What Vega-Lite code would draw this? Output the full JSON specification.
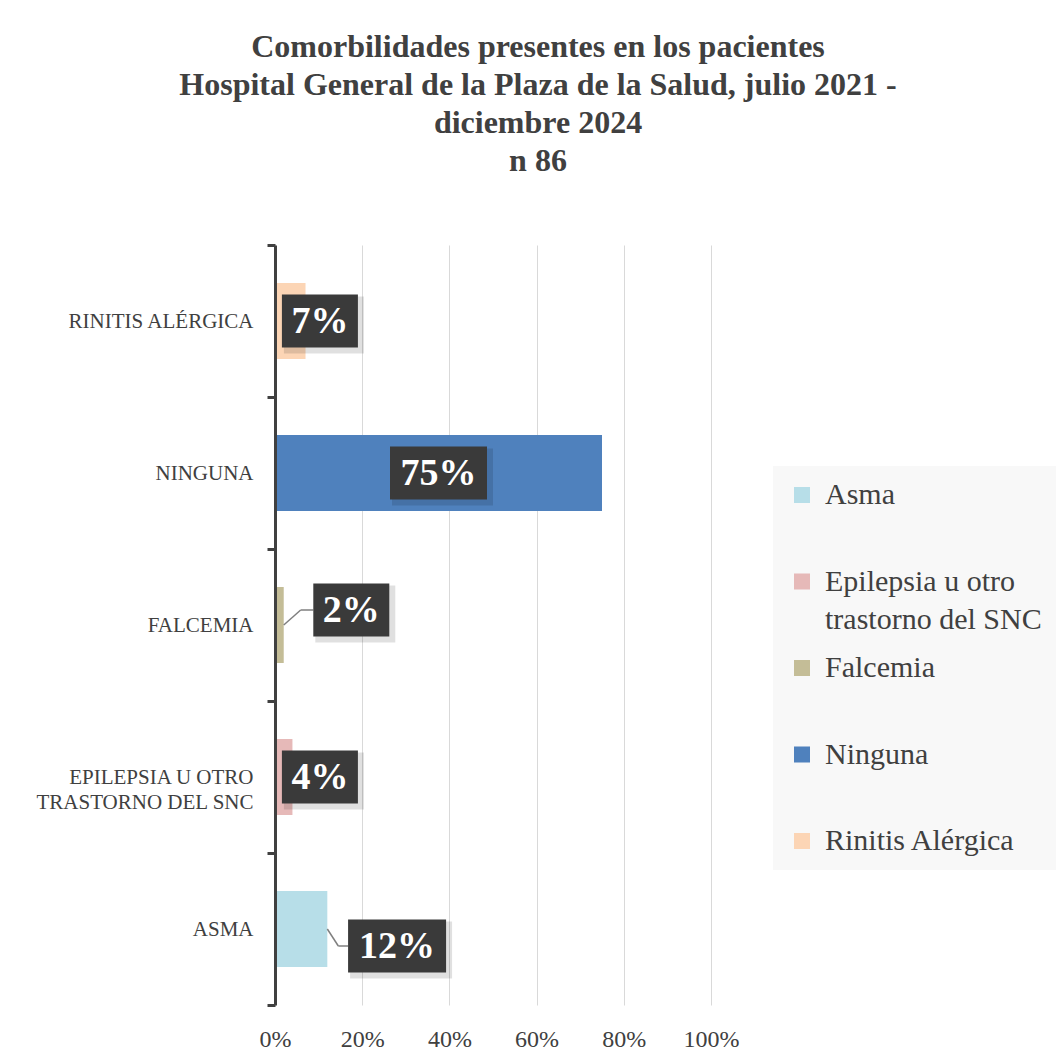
{
  "$schema": "https://vega.github.io/schema/vega-lite/v6.json",
  "width": 436,
  "height": 760,
  "autosize": {"type": "none"},
  "padding": {"left": 275, "top": 245, "right": 348, "bottom": 59},
  "background": "white",
  "title": {
    "text": ["Comorbilidades presentes en los pacientes", "Hospital General de la Plaza de la Salud, julio 2021 -", "diciembre 2024", "n 86"],
    "font": "Liberation Serif",
    "fontSize": 32,
    "fontWeight": "bold",
    "color": "#404040",
    "lineHeight": 38,
    "anchor": "middle",
    "dx": 45,
    "offset": 56
  },
  "config": {
    "view": {"stroke": null},
    "style": {"guide-label": {"lineHeight": 38}}
  },
  "data": {
    "values": [
      {"cat": "Asma", "value": 0.12, "labelX": 0.28},
      {"cat": "Epilepsia u otro trastorno del SNC", "value": 0.04, "labelX": 0.103},
      {"cat": "Falcemia", "value": 0.02, "labelX": 0.175},
      {"cat": "Ninguna", "value": 0.75, "labelX": 0.375},
      {"cat": "Rinitis Alérgica", "value": 0.07, "labelX": 0.103}
    ]
  },
  "encoding": {
    "y": {
      "field": "cat",
      "type": "nominal",
      "sort": ["Rinitis Alérgica", "Ninguna", "Falcemia", "Epilepsia u otro trastorno del SNC", "Asma"],
      "scale": {"paddingInner": 0, "paddingOuter": 0},
      "axis": {
        "title": null,
        "zindex": 2,
        "domainColor": "#404040",
        "domainWidth": 3,
        "tickColor": "#404040",
        "tickWidth": 3,
        "tickSize": 8,
        "tickBand": "extent",
        "labelFont": "Liberation Serif",
        "labelFontSize": 21,
        "labelColor": "#404040",
        "labelPadding": 14,
        "labelLimit": 400,
        "labelLineHeight": 25,
        "labelExpr": "datum.value == null ? '' : datum.value == 'Epilepsia u otro trastorno del SNC' ? ['EPILEPSIA U OTRO', 'TRASTORNO DEL SNC'] : upper(datum.value)"
      }
    }
  },
  "layer": [
    {
      "mark": {"type": "bar", "size": 76},
      "encoding": {
        "x": {
          "field": "value",
          "type": "quantitative",
          "scale": {"domain": [0, 1]},
          "axis": {
            "title": null,
            "values": [0, 0.2, 0.4, 0.6, 0.8, 1],
            "format": "%",
            "domain": false,
            "ticks": false,
            "grid": true,
            "gridColor": "#d9d9d9",
            "gridWidth": 1,
            "labelFlush": false,
            "labelFont": "Liberation Serif",
            "labelFontSize": 24,
            "labelColor": "#404040",
            "labelPadding": 22
          }
        },
        "color": {
          "field": "cat",
          "type": "nominal",
          "scale": {
            "domain": ["Asma", "Epilepsia u otro trastorno del SNC", "Falcemia", "Ninguna", "Rinitis Alérgica"],
            "range": ["#b7dee8", "#e6b9b8", "#c4bd97", "#4f81bd", "#fcd5b5"]
          },
          "legend": {
            "title": null,
            "orient": "none",
            "legendX": 498,
            "legendY": 221,
            "fillColor": "#f8f8f8",
            "padding": 14,
            "symbolType": "square",
            "symbolSize": 256,
            "symbolStrokeWidth": 0,
            "labelFont": "Liberation Serif",
            "labelFontSize": 30,
            "labelColor": "#404040",
            "labelOffset": 8,
            "labelLimit": 400,
            "gridAlign": "all",
            "rowPadding": 18.5,
            "labelExpr": "datum.value == 'Epilepsia u otro trastorno del SNC' ? ['Epilepsia u otro', 'trastorno del SNC'] : datum.value"
          }
        }
      }
    },
    {
      "transform": [{"filter": "datum.cat == 'Falcemia'"}],
      "mark": {"type": "rule", "color": "#7f7f7f", "strokeWidth": 1.5, "x2Offset": 17, "y2Offset": -15},
      "encoding": {
        "x": {"field": "value", "type": "quantitative"},
        "x2": {"field": "value"},
        "y2": {"field": "cat"}
      }
    },
    {
      "transform": [{"filter": "datum.cat == 'Falcemia'"}],
      "mark": {"type": "rule", "color": "#7f7f7f", "strokeWidth": 1.5, "xOffset": 17, "x2Offset": -38, "yOffset": -15},
      "encoding": {
        "x": {"field": "value", "type": "quantitative"},
        "x2": {"field": "labelX"}
      }
    },
    {
      "transform": [{"filter": "datum.cat == 'Asma'"}],
      "mark": {"type": "rule", "color": "#7f7f7f", "strokeWidth": 1.5, "x2Offset": 11, "y2Offset": 17},
      "encoding": {
        "x": {"field": "value", "type": "quantitative"},
        "x2": {"field": "value"},
        "y2": {"field": "cat"}
      }
    },
    {
      "transform": [{"filter": "datum.cat == 'Asma'"}],
      "mark": {"type": "rule", "color": "#7f7f7f", "strokeWidth": 1.5, "xOffset": 11, "x2Offset": -49, "yOffset": 17},
      "encoding": {
        "x": {"field": "value", "type": "quantitative"},
        "x2": {"field": "labelX"}
      }
    },
    {
      "transform": [{"filter": "datum.cat == 'Rinitis Alérgica' || datum.cat == 'Epilepsia u otro trastorno del SNC'"}],
      "mark": {"type": "bar", "size": 57, "color": "#000000", "opacity": 0.12, "xOffset": -36, "x2Offset": 44, "yOffset": 4},
      "encoding": {"x": {"field": "labelX", "type": "quantitative"}, "x2": {"field": "labelX"}}
    },
    {
      "transform": [{"filter": "datum.cat == 'Rinitis Alérgica' || datum.cat == 'Epilepsia u otro trastorno del SNC'"}],
      "mark": {"type": "bar", "size": 53, "color": "#3a3a3a", "xOffset": -38, "x2Offset": 38},
      "encoding": {"x": {"field": "labelX", "type": "quantitative"}, "x2": {"field": "labelX"}}
    },
    {
      "transform": [{"filter": "datum.cat == 'Rinitis Alérgica' || datum.cat == 'Epilepsia u otro trastorno del SNC'"}],
      "mark": {"type": "text", "font": "Liberation Serif", "fontWeight": "bold", "fontSize": 38, "color": "white", "baseline": "middle", "align": "center", "dy": 1},
      "encoding": {"x": {"field": "labelX", "type": "quantitative"}, "text": {"field": "value", "type": "quantitative", "format": ".0%"}}
    },
    {
      "transform": [{"filter": "datum.cat == 'Ninguna'"}],
      "mark": {"type": "bar", "size": 57, "color": "#000000", "opacity": 0.12, "xOffset": -46.5, "x2Offset": 54.5, "yOffset": 4},
      "encoding": {"x": {"field": "labelX", "type": "quantitative"}, "x2": {"field": "labelX"}}
    },
    {
      "transform": [{"filter": "datum.cat == 'Ninguna'"}],
      "mark": {"type": "bar", "size": 53, "color": "#3a3a3a", "xOffset": -48.5, "x2Offset": 48.5},
      "encoding": {"x": {"field": "labelX", "type": "quantitative"}, "x2": {"field": "labelX"}}
    },
    {
      "transform": [{"filter": "datum.cat == 'Ninguna'"}],
      "mark": {"type": "text", "font": "Liberation Serif", "fontWeight": "bold", "fontSize": 38, "color": "white", "baseline": "middle", "align": "center", "dy": 1},
      "encoding": {"x": {"field": "labelX", "type": "quantitative"}, "text": {"field": "value", "type": "quantitative", "format": ".0%"}}
    },
    {
      "transform": [{"filter": "datum.cat == 'Falcemia'"}],
      "mark": {"type": "bar", "size": 57, "color": "#000000", "opacity": 0.12, "xOffset": -36, "x2Offset": 44, "yOffset": -11},
      "encoding": {"x": {"field": "labelX", "type": "quantitative"}, "x2": {"field": "labelX"}}
    },
    {
      "transform": [{"filter": "datum.cat == 'Falcemia'"}],
      "mark": {"type": "bar", "size": 53, "color": "#3a3a3a", "xOffset": -38, "x2Offset": 38, "yOffset": -15},
      "encoding": {"x": {"field": "labelX", "type": "quantitative"}, "x2": {"field": "labelX"}}
    },
    {
      "transform": [{"filter": "datum.cat == 'Falcemia'"}],
      "mark": {"type": "text", "font": "Liberation Serif", "fontWeight": "bold", "fontSize": 38, "color": "white", "baseline": "middle", "align": "center", "dy": -14},
      "encoding": {"x": {"field": "labelX", "type": "quantitative"}, "text": {"field": "value", "type": "quantitative", "format": ".0%"}}
    },
    {
      "transform": [{"filter": "datum.cat == 'Asma'"}],
      "mark": {"type": "bar", "size": 57, "color": "#000000", "opacity": 0.12, "xOffset": -47, "x2Offset": 55, "yOffset": 21},
      "encoding": {"x": {"field": "labelX", "type": "quantitative"}, "x2": {"field": "labelX"}}
    },
    {
      "transform": [{"filter": "datum.cat == 'Asma'"}],
      "mark": {"type": "bar", "size": 53, "color": "#3a3a3a", "xOffset": -49, "x2Offset": 49, "yOffset": 17},
      "encoding": {"x": {"field": "labelX", "type": "quantitative"}, "x2": {"field": "labelX"}}
    },
    {
      "transform": [{"filter": "datum.cat == 'Asma'"}],
      "mark": {"type": "text", "font": "Liberation Serif", "fontWeight": "bold", "fontSize": 38, "color": "white", "baseline": "middle", "align": "center", "dy": 18},
      "encoding": {"x": {"field": "labelX", "type": "quantitative"}, "text": {"field": "value", "type": "quantitative", "format": ".0%"}}
    }
  ]
}
